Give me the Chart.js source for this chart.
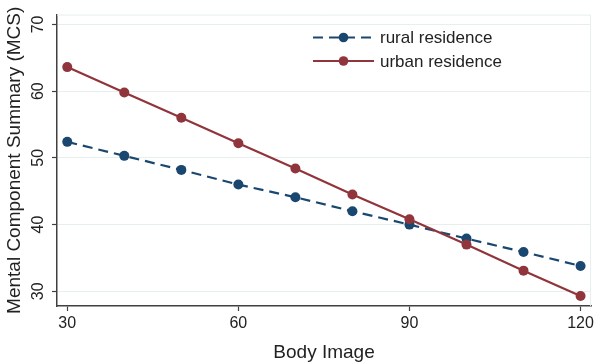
<!DOCTYPE html>
<html>
<head>
<meta charset="utf-8">
<script src="https://cdn.jsdelivr.net/npm/chart.js@4"></script>
<style>
  html, body { margin: 0; padding: 0; background: #fff; }
  #wrap { width: 597px; height: 364px; }
</style>
</head>
<body>
<div id="wrap"><canvas id="myChart" width="597" height="364"></canvas></div>
<script>
const bodyImage = [30, 40, 50, 60, 70, 80, 90, 100, 110, 120];
const rural = [52.4, 50.3, 48.2, 46.0, 44.1, 42.0, 40.0, 37.9, 35.9, 33.8];
const urban = [63.6, 59.8, 56.0, 52.2, 48.4, 44.5, 40.8, 37.0, 33.1, 29.3];
const seriesNames = ['rural residence', 'urban residence'];
const xTicks = [30, 60, 90, 120];
const yTicks = [30, 40, 50, 60, 70];

const navy = '#1a476f';
const maroon = '#90353b';
const fontFamily = '"Liberation Sans", Arial, sans-serif';

const toPoints = (vals) => bodyImage.map((x, i) => ({ x: x, y: vals[i] }));

// legend drawn inside the plot, stata style (line with marker in the middle)
const insideLegend = {
  id: 'insideLegend',
  afterDraw(chart) {
    const ctx = chart.ctx;
    const rows = [
      { y: 37.5, ds: chart.data.datasets[0] },
      { y: 61, ds: chart.data.datasets[1] }
    ];
    ctx.save();
    rows.forEach((r) => {
      ctx.strokeStyle = r.ds.borderColor;
      ctx.lineWidth = 2.2;
      ctx.setLineDash(r.ds.borderDash || []);
      ctx.beginPath();
      ctx.moveTo(313, r.y);
      ctx.lineTo(374, r.y);
      ctx.stroke();
      ctx.setLineDash([]);
      ctx.fillStyle = r.ds.borderColor;
      ctx.beginPath();
      ctx.arc(343.5, r.y, 4.8, 0, Math.PI * 2);
      ctx.fill();
      ctx.fillStyle = '#222';
      ctx.font = '17px ' + fontFamily;
      ctx.textBaseline = 'middle';
      ctx.textAlign = 'left';
      ctx.fillText(r.ds.label, 380, r.y + 1);
    });
    ctx.restore();
  }
};

// faint plot region outline
const plotFrame = {
  id: 'plotFrame',
  beforeDatasetsDraw(chart) {
    const a = chart.chartArea;
    const ctx = chart.ctx;
    ctx.save();
    ctx.strokeStyle = '#e6eef0';
    ctx.lineWidth = 1;
    ctx.beginPath();
    ctx.moveTo(a.left, a.top + 0.5);
    ctx.lineTo(a.right - 0.5, a.top + 0.5);
    ctx.lineTo(a.right - 0.5, a.bottom);
    ctx.stroke();
    ctx.restore();
  }
};

const config = {
  type: 'line',
  data: {
    datasets: [{
      label: seriesNames[0],
      data: toPoints(rural),
      borderColor: navy,
      backgroundColor: navy,
      borderWidth: 2.2,
      borderDash: [10, 6],
      pointRadius: 5,
      pointBorderWidth: 0,
      pointBackgroundColor: navy,
      order: 1
    }, {
      label: seriesNames[1],
      data: toPoints(urban),
      borderColor: maroon,
      backgroundColor: maroon,
      borderWidth: 2.2,
      pointRadius: 5,
      pointBorderWidth: 0,
      pointBackgroundColor: maroon,
      order: 0
    }]
  },
  options: {
    responsive: false,
    animation: false,
    layout: { padding: { top: 8, right: 3, left: 0, bottom: 0 } },
    plugins: {
      legend: { display: false },
      tooltip: { enabled: false }
    },
    scales: {
      x: {
        type: 'linear',
        min: 28.2,
        max: 121.85,
        afterBuildTicks: (scale) => { scale.ticks = xTicks.map((v) => ({ value: v })); },
        afterFit: (scale) => { scale.height = 58; },
        grid: { drawOnChartArea: false, tickColor: '#404040', tickLength: 5, tickWidth: 1.2 },
        border: { color: '#404040', width: 1.5 },
        ticks: {
          color: '#222',
          font: { size: 16, family: fontFamily },
          padding: 3,
          maxRotation: 0
        },
        title: {
          display: true,
          text: 'Body Image',
          color: '#222',
          font: { size: 19, family: fontFamily },
          padding: { top: 0, bottom: 0 }
        }
      },
      y: {
        type: 'linear',
        min: 27.8,
        max: 71.47,
        afterBuildTicks: (scale) => { scale.ticks = yTicks.map((v) => ({ value: v })); },
        afterFit: (scale) => { scale.width = 57; },
        grid: { color: '#e6eef0', lineWidth: 1, tickColor: '#404040', tickLength: 5, tickWidth: 1.2 },
        border: { color: '#404040', width: 1.5 },
        ticks: {
          color: '#222',
          font: { size: 16, family: fontFamily },
          padding: 5,
          minRotation: 90,
          maxRotation: 90,
          crossAlign: 'center'
        },
        title: {
          display: true,
          text: 'Mental Component Summary (MCS)',
          color: '#222',
          font: { size: 19, family: fontFamily },
          padding: { top: 3, bottom: 0 }
        }
      }
    }
  },
  plugins: [plotFrame, insideLegend]
};

const myChart = new Chart(document.getElementById('myChart'), config);
</script>
</body>
</html>
